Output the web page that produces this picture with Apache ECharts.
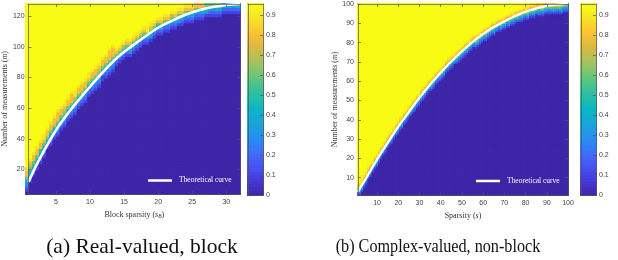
<!DOCTYPE html>
<html><head><meta charset="utf-8">
<script src="https://cdn.jsdelivr.net/npm/echarts@6/dist/echarts.min.js"></script>
<style>html,body{margin:0;padding:0;background:#fff}#c{width:618px;height:260px}</style>
</head><body><div id="c"></div>
<script>
// ---------- Panel (a): real-valued, block (cells of 0.5 in s, 2 in m) ----------
const leftS = []; for (let i = 0; i < 62; i++) leftS.push(1.25 + 0.5 * i);
const leftM = []; for (let i = 0; i < 62; i++) leftM.push(5 + 2 * i);
// row index (into leftM) where the success probability starts to rise, per column
const leftStart = [1,4,6,8,10,12,14,16,18,19, 21,22,24,25,26,28,29,30,32,33,
                   34,35,37,38,39,40, 42,43,44,45,45,46,47,48,49,49,
                   50,51,52,52,53,53,54,54,55,55, 56,56,56,57,57,57,58,58,58,58,
                   58,59,59,59,59,59];
// probabilities (tenths) from leftStart upward; above them the probability is 1
const leftRamp = [
 "12346889","12346789","12356889","11346889","12345889","12346899","01246889","12346889","12347889","123468889",
 "12346889","12356789","12346889","123468889","12346799","12346889","12357889","12346889","12246899","12346889",
 "12356889","12346789","11346889","12346889","123468889","123468889",
 "124689","123689","124679","124689","134689","124589","124689","123689","124689","124699",
 "134689","124689","123589","124689","124689","123689","124679","124689","134689","124689",
 "123689","124689","124589","124689","123689","124689","134689","124689","123679","124689",
 "124689","123689","124689","124689","123689","124689"];
const leftCurveS = [1,2,3,4,5,6,7,8,10,12,14,16,18,20,22,24,26,28,30,32];
const leftCurveM = [12,21.5,30,38,45.5,52,58,63.5,74,84,93,100,106.5,112.5,117,121,124,126,127.3,128];
const leftXTicks = [5,10,15,20,25,30];
const leftYTicks = [20,40,60,80,100,120];

// ---------- Panel (b): complex-valued, non-block ----------
const rightS = []; for (let i = 1; i <= 100; i++) rightS.push(i);
const rightM = []; for (let i = 1; i <= 100; i++) rightM.push(i);
const rightStart = [0,0,2,4,6,8,10,12,14,15, 17,19,21,22,24,26,27,29,31,32,
                    34,35,37,38,40,41,43,44,46,47, 49,50,51,53,54,55,56,58,59,60,
                    61,62,64,65,66,67,68,69,70,71, 72,73,74,75,76,77,77,78,79,80,
                    81,81,82,83,84,84,85,86,86,87, 87,88,88,89,89,90,90,91,91,92,
                    92,92,93,93,93,94,94,94,94,95, 95,95,95,95,95,95,95,95,96,96];
const rightRamp = [
 "1246889","1236889","1346889","1245889","1246899","0246889","1246789","1236899","1346789","1246889",
 "1236889","1246889","1346899","1246789","0246889","1245889","1236889","1246899","1346889","1246789",
 "1246889","1345889","1236789","1246889","1246899","0236889","1346889","1246789","1245889","1236899",
 "1346789","1246889","1236889","1246899","0246889","1346889","1245889","1246789","1236889","1246889",
 "1246899","1346889","1236789","1246889","1245889","1246889","0246899","1346789","1236889","1246889",
 "1236889","1246789","1346889","1246899","1245889","0236889","1246889","1346789","1236899","1246889",
 "1346889","1246889","1236789","1246899","1246889","1345889","0246889","1236889","1246789","1346899",
 "1246889","1236889","1346789","1246889","1245899","1246889","0236889","1346889","1246789","1236889",
 "1246899","1346889","1236889","1246789","1246889","0246889","1345889","1236899","1246889","1346789",
 "1246889","1236889","1246899","1346889","1246789","1236889","1246889","1345889","1246889","1236889"];
const rightCurveS = [1,3,5,10,15,20,25,30,40,50,60,70,80,90,100];
const rightCurveM = [2.6,6.5,10,19.5,28,36.5,44,51.5,64.5,75.5,84.5,91,96,99,100];
const rightXTicks = [10,20,30,40,50,60,70,80,90,100];
const rightYTicks = [10,20,30,40,50,60,70,80,90,100];

// ---------- colour bar ----------
const cbMax = 0.955;
const cbTicks = [0,0.1,0.2,0.3,0.4,0.5,0.6,0.7,0.8,0.9];
const cbLevels = []; for (let i = 0; i < 64; i++) cbLevels.push((i + 0.5) / 64 * cbMax);
const parula = ['#3E26A8','#4433C8','#4744E6','#4758F6','#3F6EFC','#2D86F5','#2199E6','#16A8D8',
                '#0BB4C6','#1DBCAF','#3AC198','#5FC57F','#8DC46A','#B6BF58','#D8BA44','#F3BF38',
                '#FCD12E','#F6E823','#F9FB15'];

function colorOf(v) { return echarts.color.lerp(Math.max(0, Math.min(1, v / cbMax)), parula); }
function item(x, y, v) {
  const col = colorOf(v);
  return {value: [x, y, v], itemStyle: {color: col, borderColor: col, borderWidth: 1.3}};
}
function cells(cols, rows, start, ramp) {
  const out = [];
  for (let c = 0; c < cols.length; c++) {
    for (let r = 0; r < rows.length; r++) {
      const k = r - start[c];
      let v;
      if (k < 0) v = 0;
      else if (k < ramp[c].length) v = Number(ramp[c][k]) / 10;
      else v = 1;
      out.push(item(c, r, v));
    }
  }
  return out;
}
function pairs(a, b) { return a.map((x, i) => [x, b[i]]); }

const SANS = 'Liberation Sans, Arial, sans-serif';
const SERIF = 'Liberation Serif, Times New Roman, serif';
const LC = '#555';
const axLine = {show: true, lineStyle: {color: LC, width: 0.7}};
function tick(vals) { return {show: true, inside: true, length: 3, customValues: vals, lineStyle: {color: LC, width: 0.7}}; }
function lab(vals, margin) { return {show: true, customValues: vals, fontSize: 7, color: '#444', fontFamily: SANS, margin: margin}; }
const nameRich = {
  a: {fontSize: 8, fontFamily: SERIF, color: '#333', lineHeight: 10},
  i: {fontSize: 8, fontFamily: SERIF, fontStyle: 'italic', color: '#333', lineHeight: 10},
  b: {fontSize: 5.5, fontFamily: SERIF, fontStyle: 'italic', color: '#333', verticalAlign: 'bottom', lineHeight: 6}
};
const hidden = {show: false};

const L = {left: 26, top: 4, width: 214, height: 190};
const R = {left: 358, top: 4, width: 210, height: 191};
const LCB = {left: 248, top: 4, width: 15, height: 191};
const RCB = {left: 581, top: 4, width: 15, height: 191};
const heatBg = {show: true, backgroundColor: '#3E26A8', borderWidth: 0};

const legendBase = {data: ['Theoretical curve'], padding: 0, icon: 'rect', itemWidth: 24, itemHeight: 2.5,
  itemGap: 0, selectedMode: false, textStyle: {color: '#fff', fontSize: 7.5, fontFamily: SERIF, padding: [0, 0, 0, 2]}};

const option = {
  animation: false,
  backgroundColor: '#fff',
  grid: [
    Object.assign({}, L, heatBg), Object.assign({}, L), Object.assign({}, LCB),
    Object.assign({}, R, heatBg), Object.assign({}, R), Object.assign({}, RCB)
  ],
  xAxis: [
    {gridIndex: 0, type: 'category', data: leftS, show: false},
    {gridIndex: 1, type: 'value', min: 1, max: 32, position: 'bottom', z: 5, axisLine: axLine,
     axisTick: tick(leftXTicks), axisLabel: lab(leftXTicks, 5), splitLine: hidden,
     name: '{a|Block sparsity (}{i|s}{b|B}{a|)}', nameLocation: 'middle', nameGap: 13,
     nameTextStyle: {rich: nameRich}},
    {gridIndex: 1, type: 'value', min: 1, max: 32, position: 'top', z: 5, axisLine: axLine,
     axisTick: tick(leftXTicks), axisLabel: {show: false}, splitLine: hidden},
    {gridIndex: 2, type: 'category', data: ['c'], position: 'bottom', z: 5, axisLine: axLine, axisTick: hidden, axisLabel: hidden},
    {gridIndex: 2, type: 'value', min: 0, max: 1, position: 'top', z: 5, axisLine: axLine, axisTick: hidden, axisLabel: hidden, splitLine: hidden},
    {gridIndex: 3, type: 'category', data: rightS, show: false},
    {gridIndex: 4, type: 'value', min: 1, max: 100, position: 'bottom', z: 5, axisLine: axLine,
     axisTick: tick(rightXTicks), axisLabel: lab(rightXTicks, 5), splitLine: hidden,
     name: '{a|Sparsity (}{i|s}{a|)}', nameLocation: 'middle', nameGap: 13,
     nameTextStyle: {rich: nameRich}},
    {gridIndex: 4, type: 'value', min: 1, max: 100, position: 'top', z: 5, axisLine: axLine,
     axisTick: tick(rightXTicks), axisLabel: {show: false}, splitLine: hidden},
    {gridIndex: 5, type: 'category', data: ['c'], position: 'bottom', z: 5, axisLine: axLine, axisTick: hidden, axisLabel: hidden},
    {gridIndex: 5, type: 'value', min: 0, max: 1, position: 'top', z: 5, axisLine: axLine, axisTick: hidden, axisLabel: hidden, splitLine: hidden}
  ],
  yAxis: [
    {gridIndex: 0, type: 'category', data: leftM, show: false},
    {gridIndex: 1, type: 'value', min: 4, max: 128, position: 'left', z: 5, axisLine: axLine,
     axisTick: tick(leftYTicks), axisLabel: lab(leftYTicks, 4), splitLine: hidden,
     name: '{a|Number of measurements (}{i|m}{a|)}', nameLocation: 'middle', nameGap: 16,
     nameTextStyle: {rich: nameRich}},
    {gridIndex: 1, type: 'value', min: 4, max: 128, position: 'right', z: 5, axisLine: axLine,
     axisTick: tick(leftYTicks), axisLabel: {show: false}, splitLine: hidden},
    {gridIndex: 2, type: 'category', data: cbLevels, position: 'left', z: 5, axisLine: axLine, axisTick: hidden, axisLabel: hidden},
    {gridIndex: 2, type: 'value', min: 0, max: cbMax, position: 'right', z: 5, axisLine: axLine,
     axisTick: tick(cbTicks), axisLabel: lab(cbTicks, 3), splitLine: hidden},
    {gridIndex: 3, type: 'category', data: rightM, show: false},
    {gridIndex: 4, type: 'value', min: 1, max: 100, position: 'left', z: 5, axisLine: axLine,
     axisTick: tick(rightYTicks), axisLabel: lab(rightYTicks, 4), splitLine: hidden,
     name: '{a|Number of measurements (}{i|m}{a|)}', nameLocation: 'middle', nameGap: 16,
     nameTextStyle: {rich: nameRich}},
    {gridIndex: 4, type: 'value', min: 1, max: 100, position: 'right', z: 5, axisLine: axLine,
     axisTick: tick(rightYTicks), axisLabel: {show: false}, splitLine: hidden},
    {gridIndex: 5, type: 'category', data: cbLevels, position: 'left', z: 5, axisLine: axLine, axisTick: hidden, axisLabel: hidden},
    {gridIndex: 5, type: 'value', min: 0, max: cbMax, position: 'right', z: 5, axisLine: axLine,
     axisTick: tick(cbTicks), axisLabel: lab(cbTicks, 3), splitLine: hidden}
  ],
  legend: [
    Object.assign({left: 148, top: 176.5}, legendBase),
    Object.assign({left: 476, top: 177}, legendBase)
  ],
  series: [
    {type: 'heatmap', xAxisIndex: 0, yAxisIndex: 0, data: cells(leftS, leftM, leftStart, leftRamp),
     progressive: 0, silent: true},
    {type: 'line', name: 'Theoretical curve', xAxisIndex: 1, yAxisIndex: 1, data: pairs(leftCurveS, leftCurveM),
     smooth: 0.4, symbol: 'none', z: 4, silent: true, lineStyle: {color: '#fff', width: 2.6}, itemStyle: {color: '#fff'}},
    {type: 'heatmap', xAxisIndex: 3, yAxisIndex: 3, data: cbLevels.map((v, i) => item(0, i, v)),
     progressive: 0, silent: true},
    {type: 'heatmap', xAxisIndex: 5, yAxisIndex: 5, data: cells(rightS, rightM, rightStart, rightRamp),
     progressive: 0, silent: true},
    {type: 'line', name: 'Theoretical curve', xAxisIndex: 6, yAxisIndex: 6, data: pairs(rightCurveS, rightCurveM),
     smooth: 0.4, symbol: 'none', z: 4, silent: true, lineStyle: {color: '#fff', width: 2.2}, itemStyle: {color: '#fff'}},
    {type: 'heatmap', xAxisIndex: 8, yAxisIndex: 8, data: cbLevels.map((v, i) => item(0, i, v)),
     progressive: 0, silent: true}
  ],
  graphic: [
    {type: 'text', x: 142, y: 247, silent: true,
     style: {text: '(a) Real-valued, block', font: '21.5px "Liberation Serif"', fill: '#111', align: 'center', verticalAlign: 'middle'}},
    {type: 'text', x: 438, y: 247, scaleX: 0.9, silent: true,
     style: {text: '(b) Complex-valued, non-block', font: '18px "Liberation Serif"', fill: '#111', align: 'center', verticalAlign: 'middle'}}
  ]
};
const chart = echarts.init(document.getElementById('c'), null, {renderer: 'canvas'});
chart.setOption(option);
</script></body></html>
